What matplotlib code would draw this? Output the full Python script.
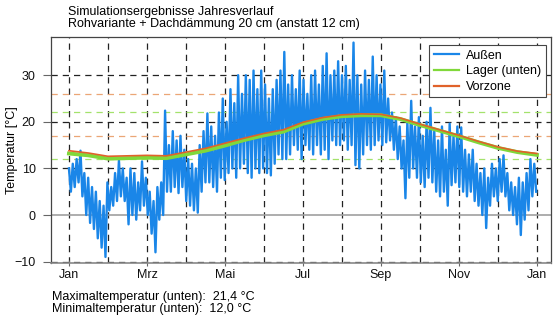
import matplotlib
matplotlib.use("Agg")
import matplotlib.pyplot as plt
from matplotlib.lines import Line2D

plt.rcParams['font.family'] = ['Liberation Sans', 'DejaVu Sans']

# ---------------- data ----------------
month_labels = ["Jan", "Mrz", "Mai", "Jul", "Sep", "Nov", "Jan"]
month_label_pos = [0, 2, 4, 6, 8, 10, 12]

# Outdoor temperature: alternating highs and lows, one pair per ~3 days
aussen_hi = [10, 11, 12, 13.8, 9, 8, 6, 5, 3, 2,
             7, 6, 9, 11.7, 10, 8, 10, 9, 7, 11.5,
             8, 5, 3, 6, 7, 22.4, 15, 18, 16, 17,
             14, 12, 11, 10, 15, 18, 21.8, 19, 17, 22,
             25, 20, 27, 24, 30, 26, 30, 29, 31, 27,
             31, 28, 25, 27, 29, 31, 35, 28, 30, 27,
             31, 29, 26, 30, 31, 28, 32, 34.7, 30, 31,
             33, 30, 32, 29, 37, 30, 28, 31, 29, 34,
             30, 28, 31, 25, 22, 21, 19, 16, 20, 24.5,
             19, 21, 17, 20, 23, 18, 16, 19, 14, 19.6,
             17, 19, 18.8, 14, 13, 14, 11, 9, 10, 8,
             11, 10, 12, 12.8, 9, 7, 6, 8, 7, 9,
             12, 11]
aussen_lo = [5, 6, 7, 4, 0, -1.7, -3, -5, -7, -9,
             1, 2, 3, 4, 3, -2, 0, -1, 1, 2,
             0, -4, -8, -1, 0, 5, 5, 6, 4.7, 6,
             3, 2, 1, 0.5, 5, 7, 7, 6, 5, 8,
             7.5, 9, 10, 8, 10, 11, 9, 8, 10, 9,
             10, 9, 8.5, 11, 13, 12, 12, 13, 15, 14,
             12, 15, 14, 13, 15, 13, 14, 12, 16, 15,
             15, 16, 14, 15, 10.7, 10, 13, 15, 14, 15,
             16, 15, 15.6, 16, 14, 12, 10, 3.6, 8, 10,
             8, 7, 6, 8, 7, 5, 4, 5, 2, 6.4,
             7, 6, 5, 4, 5, 3, 2, 0, -2.8, 2,
             4, 3, 5, 4, 1, 0, -2, -4.3, -1, 1,
             4, 5]

# Smooth indoor curves, half-month steps (x in months)
curve_months = [0, 0.5, 1, 1.5, 2, 2.5, 3, 3.5, 4, 4.5, 5, 5.5, 6,
                6.5, 7, 7.5, 8, 8.5, 9, 9.5, 10, 10.5, 11, 11.5, 12]
lager = [13.2, 12.8, 12.1, 12.2, 12.3, 12.2, 13.0, 13.8, 14.9, 16.1, 17.1, 17.9, 19.6,
         20.6, 21.2, 21.4, 21.4, 20.6, 19.3, 18.1, 16.9, 15.6, 14.4, 13.5, 12.9]
vorzone = [13.8, 13.3, 12.6, 12.7, 12.8, 12.7, 13.5, 14.3, 15.4, 16.5, 17.5, 18.3, 19.9,
           20.9, 21.5, 21.7, 21.6, 20.8, 19.5, 18.3, 17.1, 15.8, 14.6, 13.7, 13.2]

lager_limits = [12, 22]
vorzone_limits = [17, 26]
black_grid_y = [-10, 10, 20, 30]

series_labels = ["Außen", "Lager (unten)", "Vorzone"]
title_lines = ["Simulationsergebnisse Jahresverlauf",
               "Rohvariante + Dachdämmung 20 cm (anstatt 12 cm)"]
footer_lines = ["Maximaltemperatur (unten):  21,4 °C",
                "Minimaltemperatur (unten):  12,0 °C"]

c_blue, c_green, c_orange = "#1a86e8", "#80d83a", "#e0622a"

# ---------------- build zigzag for outdoor ----------------
n = len(aussen_hi)
step = 12.0 / (n - 0.3)
ax_x = []
ax_y = []
for i in range(n):
    ax_x.append(i * step)
    ax_y.append(aussen_hi[i])
    ax_x.append(i * step + step / 2)
    ax_y.append(aussen_lo[i])

# ---------------- plot ----------------
fig = plt.figure(figsize=(5.56, 3.29), dpi=100)
ax = fig.add_axes([51 / 556, 1 - 263 / 329, 500 / 556, 226 / 329])

ax.set_xlim(-0.46, 12.36)
ax.set_ylim(-10.3, 38.2)

dash = (0, (5, 4))
for m in range(13):
    ax.axvline(m, color="#222222", lw=0.9, ls=dash, zorder=1)
for yv in black_grid_y:
    ax.axhline(yv, color="#222222", lw=0.9, ls=dash, zorder=1)
ax.axhline(0, color="#a0a0a0", lw=1.2, zorder=1)
for yv in lager_limits:
    ax.axhline(yv, color="#a4e26c", lw=0.9, ls=dash, zorder=1)
for yv in vorzone_limits:
    ax.axhline(yv, color="#eba676", lw=0.9, ls=dash, zorder=1)

ax.plot(ax_x, ax_y, color=c_blue, lw=1.7, zorder=3)
ax.plot(curve_months, lager, color=c_green, lw=2.8, zorder=4)
ax.plot(curve_months, vorzone, color=c_orange, lw=1.2, zorder=4)

ax.set_xticks(month_label_pos)
ax.set_xticklabels(month_labels)
ax.set_yticks([-10, 0, 10, 20, 30])
ax.tick_params(axis="both", width=0.8, color="#666666", labelsize=9, labelcolor="#111111")
ax.tick_params(axis="x", direction="inout", length=5, pad=1.5)
ax.tick_params(axis="y", direction="out", length=6, pad=5)

for s in ["left", "right", "top"]:
    ax.spines[s].set_color("#444444")
    ax.spines[s].set_linewidth(0.9)
ax.spines["bottom"].set_color("#888888")
ax.spines["bottom"].set_linewidth(1.2)

ax.set_ylabel("Temperatur [°C]", fontsize=9)
ax.yaxis.set_label_coords(-0.066, 0.5)

handles = [Line2D([], [], color=c, lw=1.6) for c in (c_blue, c_green, c_orange)]
leg = ax.legend(handles, series_labels, loc="upper right", fontsize=9, frameon=True,
                fancybox=False, edgecolor="#444444", framealpha=1,
                borderpad=0.35, handlelength=2.0, handletextpad=0.6,
                labelspacing=0.3, borderaxespad=0.2, bbox_to_anchor=(0.994, 0.975))
leg.get_frame().set_linewidth(0.8)

fig.text(68 / 556, 1 - 12 / 329, title_lines[0], fontsize=9, va="center", ha="left")
fig.text(68 / 556, 1 - 24 / 329, title_lines[1], fontsize=9, va="center", ha="left")
fig.text(52 / 556, 1 - 297 / 329, footer_lines[0], fontsize=9, va="center", ha="left")
fig.text(52 / 556, 1 - 309 / 329, footer_lines[1], fontsize=9, va="center", ha="left")

fig.savefig("out.png", dpi=100)
